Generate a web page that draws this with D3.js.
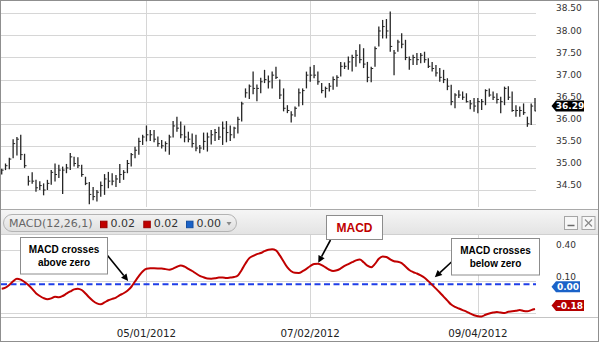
<!DOCTYPE html>
<html>
<head>
<meta charset="utf-8">
<script src="https://cdn.jsdelivr.net/npm/d3@7"></script>
<style>
  html, body { margin: 0; padding: 0; background: #fff; }
  svg { display: block; }
  text { font-family: "DejaVu Sans", Verdana, sans-serif; }
  .note { font-family: "Liberation Sans", Arial, sans-serif; font-weight: bold; }
</style>
</head>
<body>
<div id="chart"></div>
<script>
// trading days on the chart, 03/07/2012 .. 09/25/2012
const firstDay = "2012-03-07";
const lastDay = "2012-09-25";
const holidays = ["2012-04-06", "2012-05-28", "2012-07-04", "2012-09-03"];
const dateTicks = ["2012-05-01", "2012-07-02", "2012-09-04"];

const high = [
  34.98, 35.10, 35.23, 35.65, 35.70, 35.75, 35.32, 34.82, 34.90, 34.73,
  34.70, 34.65, 34.73, 34.95, 35.10, 35.07, 35.03, 35.09, 35.34, 35.25,
  35.24, 35.07, 34.80, 34.68, 34.57, 34.50, 34.69, 34.86, 34.91, 34.88,
  34.84, 35.09, 34.95, 35.18, 35.34, 35.48, 35.68, 35.75, 35.96, 35.86,
  35.86, 35.71, 35.63, 35.60, 35.75, 36.06, 36.16, 36.05, 35.96, 35.82,
  35.78, 35.75, 35.52, 35.80, 35.80, 35.86, 35.88, 35.93, 36.05, 36.06,
  35.96, 35.93, 36.16, 36.50, 36.80, 36.89, 37.18, 36.89, 37.04, 37.22,
  37.09, 37.18, 37.29, 37.00, 36.80, 36.42, 36.28, 36.39, 36.80, 36.80,
  37.18, 37.29, 37.33, 37.18, 36.92, 36.84, 36.92, 37.07, 37.10, 37.40,
  37.39, 37.52, 37.56, 37.67, 37.80, 37.71, 37.40, 37.29, 37.75, 38.20,
  38.35, 38.37, 38.54, 37.67, 37.90, 38.05, 37.90, 37.52, 37.56, 37.60,
  37.60, 37.63, 37.48, 37.40, 37.33, 37.26, 37.22, 37.03, 36.88, 36.69,
  36.76, 36.73, 36.69, 36.54, 36.58, 36.58, 36.56, 36.78, 36.80, 36.73,
  36.69, 36.61, 36.84, 36.85, 36.73, 36.42, 36.39, 36.46, 36.16, 36.46, 36.58
];
const low = [
  34.85, 34.95, 34.97, 35.22, 35.28, 35.18, 35.00, 34.60, 34.64, 34.46,
  34.50, 34.38, 34.50, 34.62, 34.69, 34.77, 34.41, 34.88, 34.95, 35.03,
  35.00, 34.80, 34.61, 34.18, 34.27, 34.24, 34.35, 34.39, 34.54, 34.61,
  34.57, 34.66, 34.73, 34.88, 35.03, 35.22, 35.30, 35.52, 35.60, 35.61,
  35.58, 35.48, 35.44, 35.37, 35.30, 35.69, 35.82, 35.67, 35.58, 35.58,
  35.46, 35.38, 35.33, 35.41, 35.37, 35.53, 35.61, 35.63, 35.52, 35.58,
  35.61, 35.67, 35.78, 36.05, 36.59, 36.56, 36.67, 36.51, 36.69, 36.92,
  36.80, 36.80, 37.01, 36.56, 36.28, 36.24, 36.03, 36.16, 36.39, 36.42,
  36.80, 36.95, 37.03, 36.88, 36.69, 36.59, 36.73, 36.77, 36.84, 37.07,
  37.24, 37.22, 37.18, 37.29, 37.37, 37.26, 36.94, 36.94, 37.29, 37.75,
  37.93, 37.93, 37.63, 37.10, 37.63, 37.71, 37.44, 37.22, 37.33, 37.33,
  37.37, 37.38, 37.26, 37.18, 37.07, 36.95, 36.92, 36.76, 36.42, 36.35,
  36.58, 36.54, 36.48, 36.33, 36.27, 36.24, 36.31, 36.42, 36.61, 36.54,
  36.46, 36.24, 36.42, 36.54, 36.27, 36.16, 36.16, 36.20, 35.93, 35.97, 36.28
];
const close = [
  34.95, 35.05, 35.20, 35.55, 35.65, 35.30, 35.05, 34.70, 34.70, 34.55,
  34.60, 34.50, 34.65, 34.90, 34.85, 34.95, 34.95, 35.00, 35.25, 35.10,
  35.05, 34.85, 34.65, 34.40, 34.35, 34.45, 34.60, 34.75, 34.70, 34.70,
  34.75, 34.85, 34.90, 35.10, 35.30, 35.40, 35.60, 35.70, 35.75, 35.75,
  35.65, 35.55, 35.50, 35.55, 35.70, 35.95, 35.90, 35.75, 35.70, 35.65,
  35.55, 35.45, 35.45, 35.60, 35.70, 35.75, 35.80, 35.70, 35.90, 35.80,
  35.75, 35.90, 36.10, 36.45, 36.70, 36.85, 36.80, 36.80, 36.95, 37.00,
  36.95, 37.10, 37.05, 36.65, 36.35, 36.30, 36.20, 36.35, 36.70, 36.75,
  37.10, 37.10, 37.10, 36.95, 36.75, 36.80, 36.85, 37.00, 37.05, 37.30,
  37.30, 37.40, 37.50, 37.55, 37.45, 37.35, 37.05, 37.25, 37.70, 38.10,
  38.20, 38.10, 37.75, 37.60, 37.85, 37.80, 37.50, 37.45, 37.50, 37.45,
  37.55, 37.45, 37.30, 37.25, 37.15, 37.05, 37.00, 36.85, 36.50, 36.65,
  36.65, 36.60, 36.50, 36.45, 36.40, 36.50, 36.50, 36.75, 36.65, 36.60,
  36.55, 36.50, 36.80, 36.60, 36.30, 36.30, 36.30, 36.25, 36.00, 36.40, 36.29
];
const macd = [
  0.029, 0.039, 0.066, 0.101, 0.126, 0.116, 0.094, 0.065, 0.028, -0.013,
  -0.040, -0.060, -0.071, -0.063, -0.047, -0.052, -0.040, -0.018, 0.003, 0.023,
  0.030, 0.017, -0.016, -0.055, -0.088, -0.111, -0.120, -0.102, -0.081, -0.068,
  -0.055, -0.032, -0.014, 0.011, 0.046, 0.099, 0.150, 0.195, 0.220, 0.225,
  0.225, 0.224, 0.222, 0.217, 0.211, 0.222, 0.240, 0.252, 0.241, 0.220,
  0.199, 0.175, 0.152, 0.139, 0.127, 0.126, 0.129, 0.136, 0.137, 0.132,
  0.136, 0.141, 0.156, 0.209, 0.271, 0.322, 0.343, 0.360, 0.371, 0.389,
  0.402, 0.406, 0.396, 0.348, 0.290, 0.233, 0.197, 0.182, 0.181, 0.197,
  0.219, 0.247, 0.266, 0.269, 0.256, 0.233, 0.211, 0.199, 0.206, 0.224,
  0.247, 0.265, 0.283, 0.301, 0.310, 0.283, 0.250, 0.235, 0.267, 0.316,
  0.338, 0.333, 0.310, 0.292, 0.288, 0.275, 0.242, 0.209, 0.189, 0.175,
  0.157, 0.134, 0.102, 0.066, 0.030, -0.007, -0.046, -0.084, -0.122, -0.144,
  -0.160, -0.175, -0.189, -0.208, -0.224, -0.233, -0.236, -0.220, -0.207, -0.199,
  -0.194, -0.199, -0.203, -0.190, -0.187, -0.182, -0.174, -0.183, -0.186, -0.175, -0.165
];

const priceTicks = [34.5, 35, 35.5, 36, 36.5, 37, 37.5, 38, 38.5];
const macdGrid = [0.40, 0.10, -0.20];
const macdTickLabels = [0.40, 0.10];   // -0.20 sits under the -0.18 tag
const dashedLevel = 0.072;             // blue dashed line, as placed in the picture
const lastPrice = 36.29;
const macdTags = [
  {value: 0.00, text: "0.00", color: "#1a62c8"},
  {value: -0.18, text: "-0.18", color: "#b40000"}
];
const legendName = "MACD(12,26,1)";
const legendItems = [
  {text: "0.02", color: "#c00000"},
  {text: "0.02", color: "#c00000"},
  {text: "0.00", color: "#1a62c8"}
];
// arrow tips in data units (bar index, macd value), boxes in pixels
const notes = [
  {lines: ["MACD crosses", "above zero"], box: [20.5, 237.5, 87, 36.5], from: [107.5, 255.5], tip: [33.2, 0.103], color: "#000", size: 10},
  {lines: ["MACD"], box: [326.5, 215.5, 56, 24], from: [330.5, 240], tip: [83.1, 0.278], color: "#c00000", size: 12},
  {lines: ["MACD crosses", "below zero"], box: [451.5, 238.5, 88, 36.5], from: [452, 261.5], tip: [113.7, 0.139], color: "#000", size: 10}
];

const W = 600, H = 343;
const plotRight = 536;
const priceTop = 1, priceBottom = 209;
const headTop = 209, headBottom = 235;
const macdTop = 235, macdBottom = 317;
const tagX = 551.5, labelX = 556;

const parse = d3.timeParse("%Y-%m-%d");
const iso = d3.timeFormat("%Y-%m-%d");
const dates = d3.timeDay.range(parse(firstDay), d3.timeDay.offset(parse(lastDay), 1))
  .filter(d => d.getDay() % 6 !== 0 && !holidays.includes(iso(d)))
  .map(iso);

const x = d3.scaleLinear().domain([0, dates.length - 1]).range([1.7, 535]);
const yPrice = d3.scaleLinear().domain([34.5, 38.5]).range([190, 13.3]);
const yMacd = d3.scaleLinear().domain([-0.2, 0.4]).range([312.7, 250]);

const svg = d3.select("#chart").append("svg")
    .attr("width", W)
    .attr("height", H);

const defs = svg.append("defs");
const hg = defs.append("linearGradient").attr("id", "head").attr("x1", 0).attr("y1", 0).attr("x2", 0).attr("y2", 1);
hg.append("stop").attr("offset", 0).attr("stop-color", "#f6f6f6");
hg.append("stop").attr("offset", 1).attr("stop-color", "#e3e3e3");
const pg = defs.append("linearGradient").attr("id", "pill").attr("x1", 0).attr("y1", 0).attr("x2", 0).attr("y2", 1);
pg.append("stop").attr("offset", 0).attr("stop-color", "#f3f3f3");
pg.append("stop").attr("offset", 1).attr("stop-color", "#dedede");
defs.append("clipPath").attr("id", "clipPrice")
  .append("rect").attr("x", 1).attr("y", priceTop).attr("width", plotRight - 1).attr("height", priceBottom - priceTop);
defs.append("clipPath").attr("id", "clipMacd")
  .append("rect").attr("x", 1).attr("y", macdTop).attr("width", plotRight - 1).attr("height", macdBottom - macdTop + 1);

svg.append("rect").attr("width", W).attr("height", H).attr("fill", "#fff");

// grid lines
const grid = svg.append("g").attr("stroke", "#d6d6d6").attr("stroke-width", 1).attr("shape-rendering", "crispEdges");
grid.selectAll(".hp").data(priceTicks).enter().append("line")
    .attr("x1", 1).attr("x2", plotRight)
    .attr("y1", d => Math.round(yPrice(d)) + 0.5)
    .attr("y2", d => Math.round(yPrice(d)) + 0.5);
grid.selectAll(".hm").data(macdGrid).enter().append("line")
    .attr("x1", 1).attr("x2", plotRight)
    .attr("y1", d => Math.round(yMacd(d)) + 0.5)
    .attr("y2", d => Math.round(yMacd(d)) + 0.5);
const tickIdx = dateTicks.map(d => dates.indexOf(d));
tickIdx.forEach(i => {
  const xx = Math.round(x(i)) + 0.5;
  grid.append("line").attr("x1", xx).attr("x2", xx).attr("y1", priceTop).attr("y2", priceBottom - 2);
  grid.append("line").attr("x1", xx).attr("x2", xx).attr("y1", macdTop).attr("y2", macdBottom);
});
svg.append("line")
    .attr("x1", 1).attr("x2", W - 2).attr("y1", macdBottom + 0.5).attr("y2", macdBottom + 0.5)
    .attr("stroke", "#c4c4c4").attr("shape-rendering", "crispEdges");

// price OHLC bars
const bars = svg.append("g").attr("clip-path", "url(#clipPrice)")
    .attr("stroke", "#262626").attr("stroke-width", 1.3);
bars.selectAll(".hl").data(high).enter().append("line")
    .attr("x1", (d, i) => x(i)).attr("x2", (d, i) => x(i))
    .attr("y1", d => yPrice(d))
    .attr("y2", (d, i) => yPrice(low[i]));
bars.selectAll(".cl").data(close).enter().append("line")
    .attr("stroke-width", 1)
    .attr("x1", (d, i) => x(i)).attr("x2", (d, i) => x(i) + 2)
    .attr("y1", d => yPrice(d)).attr("y2", d => yPrice(d));

// price labels + last price tag
svg.append("g").selectAll("text").data(priceTicks).enter().append("text")
    .attr("x", labelX).attr("y", d => yPrice(d) - 5)
    .attr("dy", "0.35em").attr("font-size", 9).attr("fill", "#333")
    .text(d => d.toFixed(2));

function tag(v, y, text, color) {
  const g = svg.append("g");
  const w = text.length > 4 ? 28 : 24;
  g.append("path")
      .attr("d", `M${tagX},${y} L${tagX + 4.5},${y - 5.5} L${tagX + 4.5 + w},${y - 5.5} L${tagX + 4.5 + w},${y + 5.5} L${tagX + 4.5},${y + 5.5} Z`)
      .attr("fill", color);
  g.append("text")
      .attr("x", tagX + 4.5 + w / 2).attr("y", y).attr("dy", "0.36em")
      .attr("text-anchor", "middle").attr("font-size", 9).attr("font-weight", "bold")
      .attr("fill", "#fff").text(text);
}
tag(lastPrice, yPrice(lastPrice) - 5, lastPrice.toFixed(2), "#000");

// header of the MACD pane
svg.append("rect").attr("x", 1).attr("y", headTop).attr("width", W - 3).attr("height", headBottom - headTop)
    .attr("fill", "url(#head)");
svg.append("line").attr("x1", 1).attr("x2", W - 2).attr("y1", headTop + 0.5).attr("y2", headTop + 0.5)
    .attr("stroke", "#a9a9a9").attr("shape-rendering", "crispEdges");
svg.append("line").attr("x1", 1).attr("x2", W - 2).attr("y1", headBottom - 0.5).attr("y2", headBottom - 0.5)
    .attr("stroke", "#d0d0d0").attr("shape-rendering", "crispEdges");

svg.append("rect").attr("x", 3.5).attr("y", 214.5).attr("width", 233).attr("height", 17).attr("rx", 8.5)
    .attr("fill", "url(#pill)").attr("stroke", "#b3b3b3");
svg.append("text").attr("x", 9).attr("y", 227.3).attr("font-size", 11).attr("fill", "#666").text(legendName);
const legX = [100, 143.3, 186];
legendItems.forEach((d, i) => {
  svg.append("rect").attr("x", legX[i] + 0.5).attr("y", 221.2).attr("width", 6.5).attr("height", 6.5)
      .attr("fill", d.color).attr("stroke", d3.color(d.color).darker(0.6));
  svg.append("text").attr("x", legX[i] + 10.5).attr("y", 227.3).attr("font-size", 11).attr("fill", "#333").text(d.text);
});
svg.append("path").attr("d", "M226.5,222 L231.5,222 L229,225.5 Z").attr("fill", "#8a8a8a");

// minimise / close buttons
[564.5, 582].forEach((bx, i) => {
  svg.append("rect").attr("x", bx).attr("y", 216.5).attr("width", 13).attr("height", 13)
      .attr("fill", "#f7f7f7").attr("stroke", "#a5a5a5");
  if (i === 0) {
    svg.append("line").attr("x1", bx + 3).attr("x2", bx + 10).attr("y1", 225.5).attr("y2", 225.5)
        .attr("stroke", "#6a6a6a").attr("stroke-width", 1.5);
  } else {
    svg.append("path").attr("d", `M${bx + 3},${219.5} L${bx + 10},${226.5} M${bx + 10},${219.5} L${bx + 3},${226.5}`)
        .attr("stroke", "#8a8a8a").attr("stroke-width", 1.2);
  }
});

// MACD pane
const pane = svg.append("g").attr("clip-path", "url(#clipMacd)");
pane.append("line")
    .attr("x1", 1).attr("x2", plotRight)
    .attr("y1", yMacd(dashedLevel)).attr("y2", yMacd(dashedLevel))
    .attr("stroke", "#1f3ee8").attr("stroke-width", 2).attr("stroke-dasharray", "6,3.5");
pane.append("path")
    .datum(macd)
    .attr("fill", "none").attr("stroke", "#c00000").attr("stroke-width", 2)
    .attr("stroke-linejoin", "round")
    .attr("d", d3.line().x((d, i) => x(i)).y(d => yMacd(d)).curve(d3.curveMonotoneX));

svg.append("g").selectAll("text").data(macdTickLabels).enter().append("text")
    .attr("x", labelX).attr("y", d => yMacd(d) - 5)
    .attr("dy", "0.35em").attr("font-size", 9).attr("fill", "#333")
    .text(d => d.toFixed(2));
macdTags.forEach(t => tag(t.value, yMacd(t.value) - 5, t.text, t.color));

// date axis
const fmtDate = d3.timeFormat("%m/%d/%Y");
svg.append("g").selectAll("text").data(tickIdx).enter().append("text")
    .attr("x", d => x(d)).attr("y", 333).attr("dy", "0.35em")
    .attr("text-anchor", "middle").attr("font-size", 10.3).attr("fill", "#222")
    .text(d => fmtDate(parse(dates[d])));

// call-outs
notes.forEach(n => {
  const [bx, by, bw, bh] = n.box;
  const tx = x(n.tip[0]), ty = yMacd(n.tip[1]);
  const [fx, fy] = n.from;
  const ang = Math.atan2(ty - fy, tx - fx);
  const hl = 7, hw = 3.5;
  const bxp = tx - hl * Math.cos(ang), byp = ty - hl * Math.sin(ang);
  svg.append("line").attr("x1", fx).attr("y1", fy).attr("x2", bxp).attr("y2", byp)
      .attr("stroke", "#000").attr("stroke-width", 1.6);
  svg.append("path")
      .attr("d", `M${tx},${ty} L${bxp + hw * Math.sin(ang)},${byp - hw * Math.cos(ang)} L${bxp - hw * Math.sin(ang)},${byp + hw * Math.cos(ang)} Z`)
      .attr("fill", "#000");
  svg.append("rect").attr("x", bx).attr("y", by).attr("width", bw).attr("height", bh)
      .attr("fill", "#fff").attr("stroke", "#8c8c8c");
  const lh = 13.3;
  const y0 = by + bh / 2 - (n.lines.length - 1) * lh / 2;
  n.lines.forEach((s, k) => {
    svg.append("text").attr("class", "note")
        .attr("x", bx + bw / 2).attr("y", y0 + k * lh).attr("dy", "0.36em")
        .attr("text-anchor", "middle").attr("font-size", n.size).attr("fill", n.color)
        .text(s);
  });
});

// outer frame
svg.append("rect").attr("x", 0.5).attr("y", 0.5).attr("width", W - 2).attr("height", H - 2)
    .attr("fill", "none").attr("stroke", "#8f8f8f").attr("shape-rendering", "crispEdges");
</script>
</body>
</html>
